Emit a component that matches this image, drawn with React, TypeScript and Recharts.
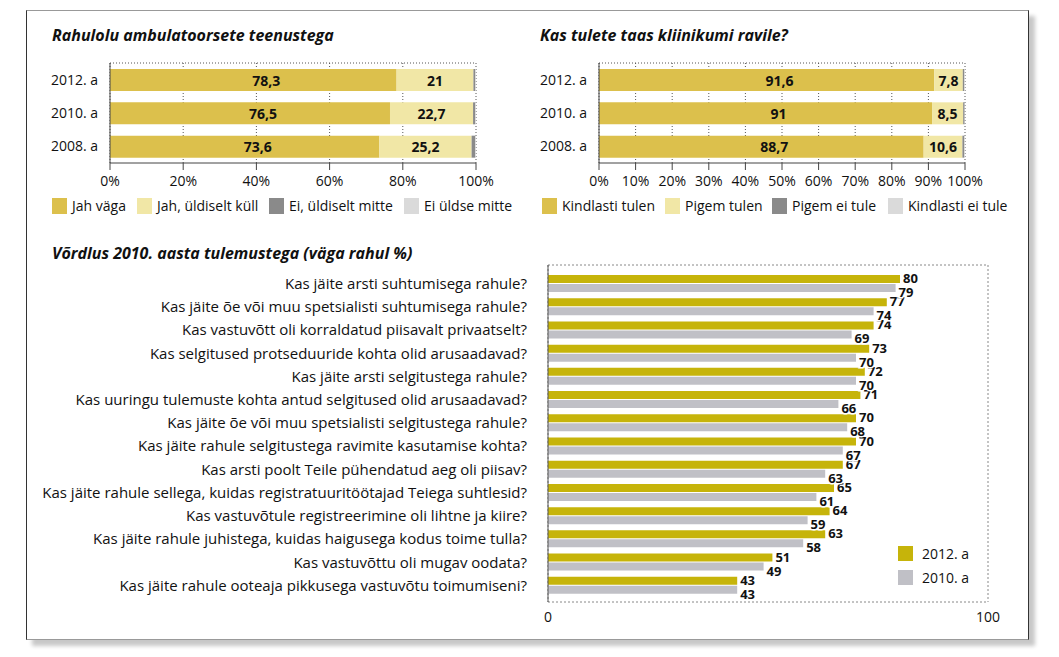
import React from 'react';
import { BarChart, Bar, XAxis, YAxis, CartesianGrid, Legend, LabelList } from 'recharts';

// Rahulolu ambulatoorsete teenustega
const years = ['2012. a', '2010. a', '2008. a'];
const satisfactionLabels = ['Jah väga', 'Jah, üldiselt küll', 'Ei, üldiselt mitte', 'Ei üldse mitte'];
const jahVaga = [78.3, 76.5, 73.6];
const jahYldiseltKull = [21, 22.7, 25.2];
const eiYldiseltMitte = [0.5, 0.6, 1.0];
const eiYldseMitte = [0.2, 0.2, 0.2];
const percentTicks20 = [0, 20, 40, 60, 80, 100];

// Kas tulete taas kliinikumi ravile?
const returnLabels = ['Kindlasti tulen', 'Pigem tulen', 'Pigem ei tule', 'Kindlasti ei tule'];
const kindlastiTulen = [91.6, 91, 88.7];
const pigemTulen = [7.8, 8.5, 10.6];
const pigemEiTule = [0.4, 0.4, 0.5];
const kindlastiEiTule = [0.2, 0.1, 0.2];
const percentTicks10 = [0, 10, 20, 30, 40, 50, 60, 70, 80, 90, 100];

// Võrdlus 2010. aasta tulemustega (väga rahul %)
const questions = [
  'Kas jäite arsti suhtumisega rahule?',
  'Kas jäite õe või muu spetsialisti suhtumisega rahule?',
  'Kas vastuvõtt oli korraldatud piisavalt privaatselt?',
  'Kas selgitused protseduuride kohta olid arusaadavad?',
  'Kas jäite arsti selgitustega rahule?',
  'Kas uuringu tulemuste kohta antud selgitused olid arusaadavad?',
  'Kas jäite õe või muu spetsialisti selgitustega rahule?',
  'Kas jäite rahule selgitustega ravimite kasutamise kohta?',
  'Kas arsti poolt Teile pühendatud aeg oli piisav?',
  'Kas jäite rahule sellega, kuidas registratuuritöötajad Teiega suhtlesid?',
  'Kas vastuvõtule registreerimine oli lihtne ja kiire?',
  'Kas jäite rahule juhistega, kuidas haigusega kodus toime tulla?',
  'Kas vastuvõttu oli mugav oodata?',
  'Kas jäite rahule ooteaja pikkusega vastuvõtu toimumiseni?',
];
const rahul2012 = [80, 77, 74, 73, 72, 71, 70, 70, 67, 65, 64, 63, 51, 43];
const rahul2010 = [79, 74, 69, 70, 70, 66, 68, 67, 63, 61, 59, 58, 49, 43];
const compareTicks = [0, 100];
const compareSeries = ['2012. a', '2010. a'];

const stackColors = ['#dcc04c', '#f1e7a6', '#8a8a8a', '#dadada'];
const compareColors = ['#c6b40a', '#c0c0c6'];

const satisfactionData = years.map((year, i) => ({
  year,
  s0: jahVaga[i],
  s1: jahYldiseltKull[i],
  s2: eiYldiseltMitte[i],
  s3: eiYldseMitte[i],
}));

const returnData = years.map((year, i) => ({
  year,
  s0: kindlastiTulen[i],
  s1: pigemTulen[i],
  s2: pigemEiTule[i],
  s3: kindlastiEiTule[i],
}));

const compareData = questions.map((q, i) => ({ q, a: rahul2012[i], b: rahul2010[i] }));

const fmt = (v: any) => String(v).replace('.', ',');

const centerLabel = (dx: number) => (props: any) => {
  const vb = props.viewBox ?? props;
  return (
    <text
      x={vb.x + vb.width / 2 + dx}
      y={vb.y + vb.height / 2}
      textAnchor="middle"
      dominantBaseline="central"
      fontSize={14}
      fontWeight={700}
      fill="#111"
    >
      {fmt(props.value)}
    </text>
  );
};

const endLabel = (dy: number) => (props: any) => {
  const vb = props.viewBox ?? props;
  return (
    <text
      x={vb.x + vb.width + 3}
      y={vb.y + vb.height / 2 + dy}
      dominantBaseline="central"
      fontSize={13}
      fontWeight={700}
      fill="#111"
      stroke="#fff"
      strokeWidth={3}
      paintOrder="stroke"
    >
      {props.value}
    </text>
  );
};

const StackLegend = ({ labels, widths }: { labels: string[]; widths: number[] }) => (
  <div style={{ display: 'flex', height: 16, fontSize: 14, lineHeight: '16px', color: '#111' }}>
    {labels.map((label, i) => (
      <div key={label} style={{ width: widths[i], display: 'flex', alignItems: 'center', flex: 'none' }}>
        <span style={{ width: 15, height: 16, background: stackColors[i], marginRight: 5, flex: 'none' }} />
        <span style={{ whiteSpace: 'nowrap' }}>{label}</span>
      </div>
    ))}
  </div>
);

const CompareLegend = () => (
  <div style={{ fontSize: 14, color: '#111' }}>
    {compareSeries.map((label, i) => (
      <div key={label} style={{ display: 'flex', alignItems: 'center', height: 24 }}>
        <span style={{ width: 15, height: 15, background: compareColors[i], marginRight: 9 }} />
        <span>{label}</span>
      </div>
    ))}
  </div>
);

const topLine = ({ offset }: any) => (offset ? [offset.top] : []);
const topBottomLines = ({ offset }: any) => (offset ? [offset.top, offset.top + offset.height] : []);

interface StackedProps {
  data: any[];
  labels: string[];
  ticks: number[];
  yWidth: number;
  legendWidths: number[];
}

const StackedChart = ({ data, labels, ticks, yWidth, legendWidths }: StackedProps) => (
  <BarChart
    width={yWidth + 366 + 20}
    height={159}
    data={data}
    layout="vertical"
    margin={{ top: 8, right: 20, left: 0, bottom: 0 }}
  >
    <CartesianGrid
      stroke="#555"
      strokeDasharray="1 2"
      horizontalCoordinatesGenerator={topLine}
    />
    <XAxis
      type="number"
      domain={[0, 100]}
      ticks={ticks}
      tickFormatter={(v) => `${v}%`}
      height={35}
      tickSize={7}
      tickMargin={6}
      interval={0}
      stroke="#444"
      tick={{ fill: '#111', fontSize: 14 }}
    />
    <YAxis
      type="category"
      dataKey="year"
      width={yWidth}
      tickSize={0}
      tickMargin={12}
      stroke="#444"
      tick={{ fill: '#111', fontSize: 14 }}
    />
    <Legend
      verticalAlign="bottom"
      wrapperStyle={{ left: 12, width: 480 }}
      content={() => <StackLegend labels={labels} widths={legendWidths} />}
    />
    {['s0', 's1', 's2', 's3'].map((key, i) => (
      <Bar
        key={key}
        dataKey={key}
        name={labels[i]}
        stackId="a"
        barSize={22}
        fill={stackColors[i]}
        isAnimationActive={false}
      >
        {i === 0 && <LabelList dataKey={key} content={centerLabel(13)} />}
        {i === 1 && <LabelList dataKey={key} content={centerLabel(0)} />}
      </Bar>
    ))}
  </BarChart>
);

const titleStyle: React.CSSProperties = {
  position: 'absolute',
  fontSize: 16,
  lineHeight: '20px',
  fontWeight: 700,
  fontStyle: 'italic',
  color: '#111',
  whiteSpace: 'nowrap',
};

export default function App() {
  return (
    <div
      style={{
        position: 'absolute',
        left: 0,
        top: 0,
        width: 1059,
        height: 657,
        background: '#fff',
        fontFamily: '"Open Sans", Lato, sans-serif',
      }}
    >
      <div
        style={{
          position: 'absolute',
          left: 26,
          top: 10,
          width: 1003,
          height: 630,
          boxSizing: 'border-box',
          border: '1px solid #999',
          borderLeft: '1px solid #333',
          borderRight: '1px solid #333',
          boxShadow: '6px 6px 4px rgba(0,0,0,0.22)',
        }}
      />

      <div style={{ ...titleStyle, left: 52, top: 25 }}>Rahulolu ambulatoorsete teenustega</div>
      <div style={{ position: 'absolute', left: 40, top: 55 }}>
        <StackedChart
          data={satisfactionData}
          labels={satisfactionLabels}
          ticks={percentTicks20}
          yWidth={70}
          legendWidths={[85, 132, 135, 125]}
        />
      </div>

      <div style={{ ...titleStyle, left: 540, top: 25 }}>Kas tulete taas kliinikumi ravile?</div>
      <div style={{ position: 'absolute', left: 530, top: 55 }}>
        <StackedChart
          data={returnData}
          labels={returnLabels}
          ticks={percentTicks10}
          yWidth={69}
          legendWidths={[123, 107, 116, 130]}
        />
      </div>

      <div style={{ ...titleStyle, left: 52, top: 243 }}>Võrdlus 2010. aasta tulemustega (väga rahul %)</div>
      <div style={{ position: 'absolute', left: 40, top: 255 }}>
        <BarChart
          width={968}
          height={377}
          data={compareData}
          layout="vertical"
          margin={{ top: 10, right: 20, left: 0, bottom: 0 }}
          barGap={1}
        >
          <CartesianGrid
            stroke="#888"
            strokeDasharray="2 2"
            horizontalCoordinatesGenerator={topBottomLines}
          />
          <XAxis
            type="number"
            domain={[0, 100]}
            ticks={compareTicks}
            height={30}
            tickSize={0}
            tickMargin={10}
            axisLine={false}
            interval={0}
            tick={{ fill: '#111', fontSize: 14 }}
          />
          <YAxis
            type="category"
            dataKey="q"
            width={508}
            tickSize={0}
            tickMargin={21}
            interval={0}
            padding={{ top: 7, bottom: 5 }}
            stroke="#555"
            tick={{ fill: '#111', fontSize: 15 }}
          />
          <Legend
            layout="vertical"
            align="center"
            verticalAlign="middle"
            wrapperStyle={{ left: 858, top: 286, width: 110 }}
            content={() => <CompareLegend />}
          />
          <Bar dataKey="a" name={compareSeries[0]} barSize={8} fill={compareColors[0]} isAnimationActive={false}>
            <LabelList dataKey="a" content={endLabel(-1)} />
          </Bar>
          <Bar dataKey="b" name={compareSeries[1]} barSize={8} fill={compareColors[1]} isAnimationActive={false}>
            <LabelList dataKey="b" content={endLabel(4)} />
          </Bar>
        </BarChart>
      </div>
    </div>
  );
}
